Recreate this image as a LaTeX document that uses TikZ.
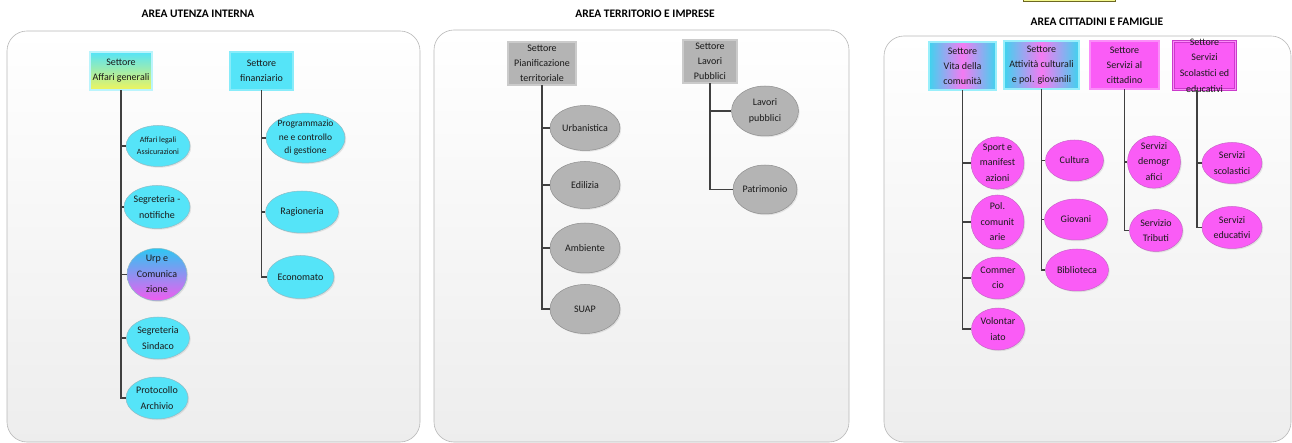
\documentclass[tikz,border=0pt]{standalone}
\usepackage{fontspec}
\setmainfont{Carlito}
\usetikzlibrary{shapes.geometric,shadows,calc}
\definecolor{cyanF}{HTML}{55E4F8}
\definecolor{cyanB}{HTML}{8CBCC6}
\definecolor{cyanBox}{HTML}{3CC6DA}
\definecolor{cyanMix}{HTML}{3FD3EE}
\definecolor{pinkMix}{HTML}{F47AF2}
\definecolor{yelF}{HTML}{F0F55C}
\definecolor{grayF}{HTML}{B4B4B4}
\definecolor{grayB}{HTML}{8E8E8E}
\definecolor{magF}{HTML}{FA5CF6}
\definecolor{magB}{HTML}{C964C9}
\definecolor{magBox}{HTML}{CC3ACC}
\definecolor{connC}{HTML}{404040}
\definecolor{txt}{HTML}{1A1A1A}
\definecolor{panelB}{HTML}{B8B8B8}
\definecolor{urpTop}{HTML}{2EC6F2}
\definecolor{urpBot}{HTML}{F05CF0}
\begin{document}
\begin{tikzpicture}[x=1pt,y=-1pt,
  panel/.style={draw=panelB, line width=0.6pt, rounded corners=20pt, top color=white, bottom color=black!7},
  title/.style={font=\bfseries\fontsize{11.5}{13}\selectfont, text=black},
  boxbase/.style={rectangle, inner sep=0pt, align=center, text=txt,
     font=\fontsize{10}{14.8}\selectfont, line width=0.6pt, double distance=1.2pt},
  cyanbox/.style={boxbase, draw=cyanBox, double=cyanF!70, fill=cyanF},
  agbox/.style={boxbase, draw=cyanB, double=cyanF!40, top color=cyanF, bottom color=yelF},
  graybox/.style={boxbase, draw=grayB, double=grayF!70, fill=grayF},
  mixbox/.style={boxbase, draw=cyanBox, double=cyanF!60, left color=cyanMix, right color=cyanMix, middle color=pinkMix},
  magbox/.style={boxbase, draw=magBox, double=magF!70, fill=magF},
  ellbase/.style={ellipse, inner sep=0pt, align=center, text=txt,
     font=\fontsize{10}{15.5}\selectfont, line width=0.5pt,
     drop shadow={opacity=0.18, shadow xshift=1.2pt, shadow yshift=-1.2pt}},
  cyanell/.style={ellbase, draw=cyanB, fill=cyanF},
  grayell/.style={ellbase, draw=grayB, fill=grayF},
  magell/.style={ellbase, draw=magB, fill=magF},
  conn/.style={draw=connC, line width=1.4pt}
]
\useasboundingbox (0,0) rectangle (1292,443);

% cut-off box at the top edge
\draw[draw=olive!70!black, line width=0.6pt, fill=yelF!70] (1023,-4) rectangle (1115,1.2);

% panels
\draw[panel] (7,31) rectangle (420,442);
\draw[panel] (434,30) rectangle (849,442);
\draw[panel] (884,36) rectangle (1291,442);

% titles
\node[title] (t1) at (198,14) {AREA UTENZA INTERNA};
\node[title] (t2) at (645,14) {AREA TERRITORIO E IMPRESE};
\node[title] (t3) at (1097,22) {AREA CITTADINI E FAMIGLIE};

% ---------- panel 1
\node[agbox, minimum width=62pt, minimum height=38pt] (ag) at (121,71) {Settore\\Affari generali};
\node[cyanbox, minimum width=63pt, minimum height=38pt] (sf) at (261.5,71) {Settore\\finanziario};

\node[cyanell, minimum width=64pt, minimum height=41pt, font=\fontsize{8}{12}\selectfont] (al) at (158,146) {Affari legali\\Assicurazioni};
\node[cyanell, minimum width=63pt, minimum height=43pt] (sn) at (157,207) {Segreteria -\\notifiche};
\node[ellbase, draw=cyanB, top color=urpTop, bottom color=urpBot, minimum width=60pt, minimum height=43pt] (urp) at (157,274.5) {\raisebox{0pt}[6pt][0pt]{Urp e}\\Comunica\\\raisebox{0pt}[6pt][0pt]{zione}};
\node[cyanell, minimum width=63pt, minimum height=42pt] (ss) at (158,338) {Segreteria\\Sindaco};
\node[cyanell, minimum width=62pt, minimum height=42pt] (pa) at (157,398) {Protocollo\\Archivio};

\node[cyanell, minimum width=75pt, minimum height=42pt, font=\fontsize{9.5}{13.5}\selectfont] (pr) at (305.5,138) {Programmazio\\ne e controllo\\di gestione};
\node[cyanell, minimum width=73pt, minimum height=42pt] (rg) at (302,212) {Ragioneria};
\node[cyanell, minimum width=67pt, minimum height=43pt] (ec) at (300.5,277) {Economato};

\foreach \e in {al,sn,urp,ss,pa} \draw[conn] (ag.south) |- (\e.west);
\foreach \e in {pr,rg,ec} \draw[conn] (sf.south) |- (\e.west);

% ---------- panel 2
\node[graybox, minimum width=68pt, minimum height=43pt] (pt) at (542,63.5) {Settore\\Pianificazione\\territoriale};
\node[graybox, minimum width=54pt, minimum height=43pt] (lp) at (710,61.5) {Settore\\Lavori\\Pubblici};

\node[grayell, minimum width=70pt, minimum height=45pt] (ur) at (585,128) {Urbanistica};
\node[grayell, minimum width=70pt, minimum height=47pt] (ed) at (585,185) {Edilizia};
\node[grayell, minimum width=70pt, minimum height=50pt] (am) at (585,248) {Ambiente};
\node[grayell, minimum width=70pt, minimum height=49pt] (su) at (585,309) {SUAP};

\node[grayell, minimum width=67pt, minimum height=50pt] (lpb) at (765,111) {Lavori\\pubblici};
\node[grayell, minimum width=64pt, minimum height=49pt] (pat) at (765,189.5) {Patrimonio};

\foreach \e in {ur,ed,am,su} \draw[conn] (pt.south) |- (\e.west);
\foreach \e in {lpb,pat} \draw[conn] (lp.south) |- (\e.west);

% ---------- panel 3
\node[mixbox, minimum width=67pt, minimum height=48pt] (vc) at (962.5,66) {Settore\\Vita della\\comunità};
\node[mixbox, minimum width=75pt, minimum height=48pt] (ac) at (1041.5,65) {Settore\\Attività culturali\\e pol. giovanili};
\node[magbox, minimum width=69pt, minimum height=48pt] (sc) at (1124.5,65) {Settore\\Servizi al\\cittadino};
\node[magbox, minimum width=62pt, minimum height=48pt] (ssc) at (1204.5,65.5) {};
\node[align=center, text=txt, font=\fontsize{10}{15.6}\selectfont, inner sep=0pt] (ssct) at (ssc.center) {Settore\\Servizi\\Scolastici ed\\educativi};
\coordinate (sscT) at ($(ssc.south)+(-7.5,0)$);

\node[magell, minimum width=53pt, minimum height=41pt] (sp) at (997.5,163) {\raisebox{0pt}[6pt][0pt]{Sport e}\\manifest\\\raisebox{0pt}[6pt][0pt]{azioni}};
\node[magell, minimum width=53pt, minimum height=54pt] (pc) at (997.5,222) {Pol.\\comunit\\arie};
\node[magell, minimum width=53pt, minimum height=42pt] (co) at (998,278) {Commer\\cio};
\node[magell, minimum width=53pt, minimum height=42pt] (vo) at (998,329) {Volontar\\iato};

\node[magell, minimum width=58pt, minimum height=41pt] (cu) at (1074.5,160.5) {Cultura};
\node[magell, minimum width=63pt, minimum height=41pt] (gi) at (1076,219.5) {Giovani};
\node[magell, minimum width=63pt, minimum height=42pt] (bi) at (1077,270) {Biblioteca};

\node[magell, minimum width=53pt, minimum height=41pt] (sd) at (1154,162) {\raisebox{0pt}[6pt][0pt]{Servizi}\\demogr\\\raisebox{0pt}[6pt][0pt]{afici}};
\node[magell, minimum width=53pt, minimum height=42pt] (st) at (1156,230.5) {Servizio\\Tributi};

\node[magell, minimum width=60pt, minimum height=41pt] (sscl) at (1232,163) {Servizi\\scolastici};
\node[magell, minimum width=60pt, minimum height=42pt] (sed) at (1232,227.5) {Servizi\\educativi};

\foreach \e in {sp,pc,co,vo} \draw[conn] (vc.south) |- (\e.west);
\foreach \e in {cu,gi,bi} \draw[conn] (ac.south) |- (\e.west);
\foreach \e in {sd,st} \draw[conn] (sc.south) |- (\e.west);
\foreach \e in {sscl,sed} \draw[conn] (sscT) |- (\e.west);
\end{tikzpicture}
\end{document}
